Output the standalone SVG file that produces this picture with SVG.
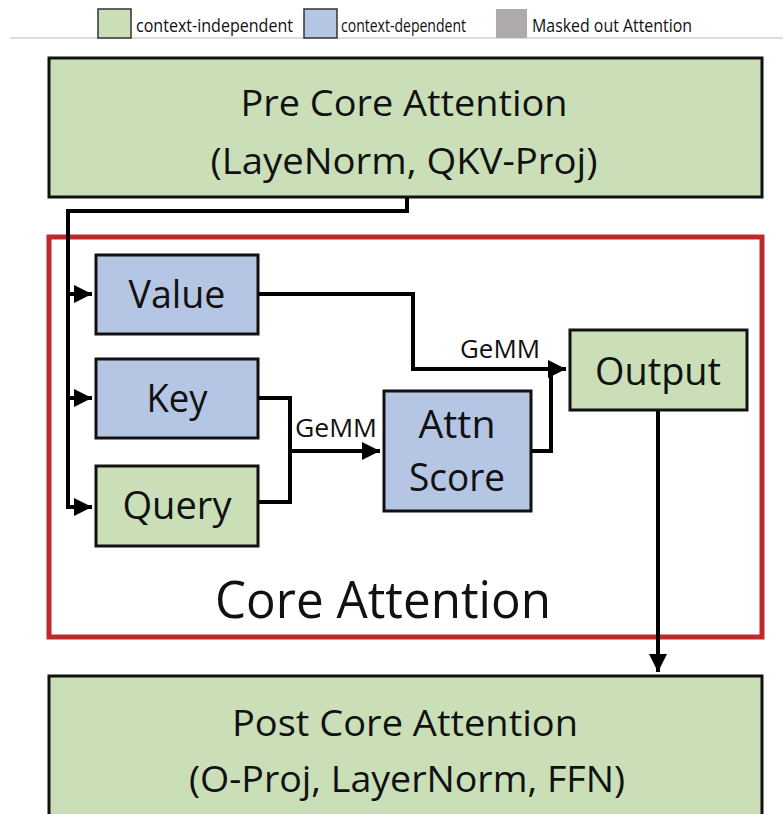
<svg xmlns="http://www.w3.org/2000/svg" width="783" height="814" viewBox="0 0 783 814">
<defs>
<style>
.g{fill:#cadfb8;stroke:#111;stroke-width:3}
.b{fill:#b5c6e4;stroke:#111;stroke-width:3}
.t{font-family:"Open Sans","Noto Sans",sans-serif;fill:#111;text-anchor:middle}
.lg{font-family:"Open Sans","Noto Sans",sans-serif;fill:#111;font-size:18px}
.c{fill:none;stroke:#000;stroke-width:4;stroke-linejoin:miter}
</style>
<marker id="ah" viewBox="0 0 10 10" refX="10" refY="5" markerWidth="4.5" markerHeight="4.5" markerUnits="strokeWidth" orient="auto">
<path d="M0,0 L10,5 L0,10 z" fill="#000"/>
</marker>
</defs>
<rect width="783" height="814" fill="#fff"/>
<g id="legend">
<line x1="10" y1="38" x2="783" y2="38" stroke="#bbb" stroke-width="1"/>
<rect x="98" y="9" width="33" height="29" fill="#cadfb8" stroke="#333" stroke-width="1.5"/>
<text class="lg" x="136" y="32" textLength="157" lengthAdjust="spacingAndGlyphs">context-independent</text>
<rect x="304" y="9" width="33" height="29" fill="#b5c6e4" stroke="#333" stroke-width="1.5"/>
<text class="lg" x="341" y="32" textLength="125" lengthAdjust="spacingAndGlyphs">context-dependent</text>
<rect x="496" y="9" width="31" height="29" fill="#aeaaab"/>
<text class="lg" x="532" y="32" textLength="160" lengthAdjust="spacingAndGlyphs">Masked out Attention</text>
</g>
<g id="core-frame">
<rect x="49" y="237" width="713" height="400" fill="none" stroke="#c0282a" stroke-width="5"/>
<text class="t" x="383" y="618" font-size="52" textLength="336" lengthAdjust="spacingAndGlyphs">Core Attention</text>
</g>
<g id="connectors">
<path class="c" d="M407,197 V211 H68 V507 H92" marker-end="url(#ah)"/>
<path class="c" d="M68,294 H92" marker-end="url(#ah)"/>
<path class="c" d="M68,398 H92" marker-end="url(#ah)"/>
<path class="c" d="M258,294 H413 V369 H566" marker-end="url(#ah)"/>
<path class="c" d="M258,398 H290 V502 H258"/>
<path class="c" d="M290,451 H380" marker-end="url(#ah)"/>
<path class="c" d="M531,451 H551 V369"/>
<path class="c" d="M658,410 V672" marker-end="url(#ah)"/>
<text class="t" x="500" y="358" font-size="25" textLength="80" lengthAdjust="spacingAndGlyphs">GeMM</text>
<text class="t" x="336" y="437" font-size="25" textLength="82" lengthAdjust="spacingAndGlyphs">GeMM</text>
</g>
<g id="pre-core">
<rect class="g" x="49" y="58" width="713" height="139"/>
<text class="t" x="404" y="116" font-size="36" textLength="327" lengthAdjust="spacingAndGlyphs">Pre Core Attention</text>
<text class="t" x="404" y="174" font-size="36" textLength="387" lengthAdjust="spacingAndGlyphs">(LayeNorm, QKV-Proj)</text>
</g>
<g id="value">
<rect class="b" x="96" y="255" width="162" height="79"/>
<text class="t" x="177" y="308" font-size="38" textLength="97" lengthAdjust="spacingAndGlyphs">Value</text>
</g>
<g id="key">
<rect class="b" x="96" y="359" width="162" height="79"/>
<text class="t" x="177" y="412" font-size="38" textLength="61" lengthAdjust="spacingAndGlyphs">Key</text>
</g>
<g id="query">
<rect class="g" x="96" y="466" width="162" height="80"/>
<text class="t" x="177" y="519" font-size="38" textLength="109" lengthAdjust="spacingAndGlyphs">Query</text>
</g>
<g id="attn-score">
<rect class="b" x="384" y="391" width="147" height="120"/>
<text class="t" x="457" y="438" font-size="38" textLength="77" lengthAdjust="spacingAndGlyphs">Attn</text>
<text class="t" x="457" y="491" font-size="38" textLength="96" lengthAdjust="spacingAndGlyphs">Score</text>
</g>
<g id="output">
<rect class="g" x="570" y="330" width="177" height="80"/>
<text class="t" x="658" y="385" font-size="38" textLength="126" lengthAdjust="spacingAndGlyphs">Output</text>
</g>
<g id="post-core">
<rect class="g" x="49" y="676" width="713" height="145"/>
<text class="t" x="405" y="736" font-size="36" textLength="346" lengthAdjust="spacingAndGlyphs">Post Core Attention</text>
<text class="t" x="407" y="792" font-size="36" textLength="436" lengthAdjust="spacingAndGlyphs">(O-Proj, LayerNorm, FFN)</text>
</g>
</svg>
